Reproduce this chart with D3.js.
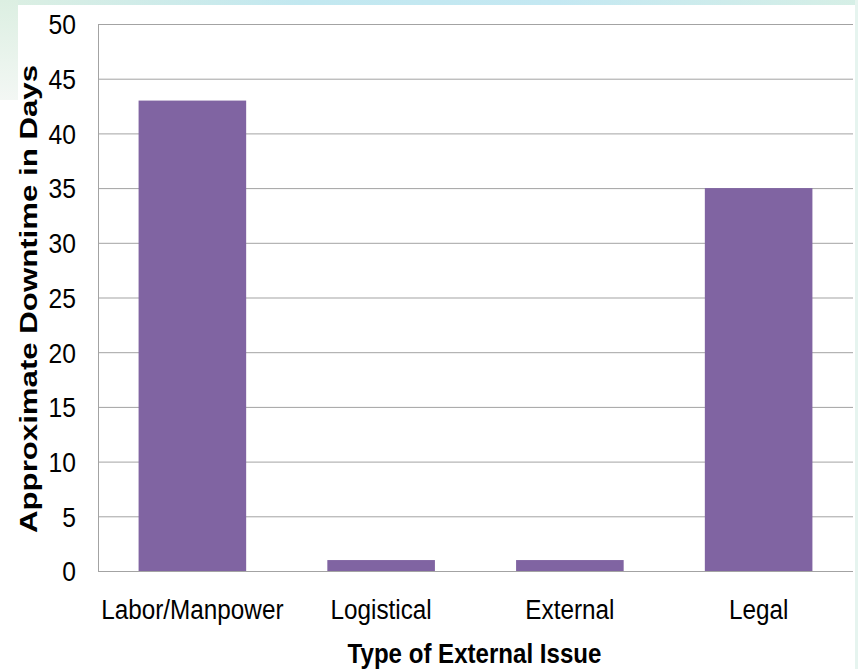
<!DOCTYPE html>
<html>
<head>
<meta charset="utf-8">
<script src="https://cdn.jsdelivr.net/npm/d3@7"></script>
<style>
  html, body { margin: 0; padding: 0; background: #ffffff; }
  svg { display: block; }
</style>
</head>
<body>
<svg id="chart" width="858" height="669"></svg>
<script>
// ---- data ----
const categories = ["Labor/Manpower", "Logistical", "External", "Legal"];
const downtimeDays = [43, 1, 1, 35];
const yTicks = [0, 5, 10, 15, 20, 25, 30, 35, 40, 45, 50];
const xTitle = "Type of External Issue";
const yTitle = "Approximate Downtime in Days";

// ---- layout ----
const W = 858, H = 669;
const plot = { left: 98, right: 853, top: 24, bottom: 571 };
const svg = d3.select("#chart");
const font = "'Liberation Sans', Arial, sans-serif";

// background decorations
const defs = svg.append("defs");
const gTop = defs.append("linearGradient").attr("id", "gTop").attr("x1", 0).attr("x2", 1).attr("y1", 0).attr("y2", 0);
gTop.append("stop").attr("offset", "0%").attr("stop-color", "#dcefe2");
gTop.append("stop").attr("offset", "35%").attr("stop-color", "#c2e8f0");
gTop.append("stop").attr("offset", "65%").attr("stop-color", "#c4e8f2");
gTop.append("stop").attr("offset", "100%").attr("stop-color", "#d6efe6");
const gLeft = defs.append("linearGradient").attr("id", "gLeft").attr("x1", 0).attr("x2", 0).attr("y1", 0).attr("y2", 1);
gLeft.append("stop").attr("offset", "0%").attr("stop-color", "#dcefe2");
gLeft.append("stop").attr("offset", "100%").attr("stop-color", "#f3f7f4");

svg.append("rect").attr("x", 0).attr("y", 0).attr("width", W).attr("height", H).attr("fill", "#ffffff");
svg.append("rect").attr("x", 0).attr("y", 0).attr("width", W).attr("height", 5).attr("fill", "url(#gTop)");
svg.append("rect").attr("x", 0).attr("y", 0).attr("width", 18).attr("height", 100).attr("fill", "url(#gLeft)");
svg.append("rect").attr("x", 855).attr("y", 0).attr("width", 3).attr("height", H).attr("fill", "#e6f4ef");

// ---- scales ----
const x = d3.scaleBand().domain(categories).range([plot.left, plot.right]).paddingInner(0.43).paddingOuter(0.215);
const y = d3.scaleLinear().domain([0, 50]).range([plot.bottom, plot.top]);

// gridlines
svg.append("g")
  .attr("transform", `translate(${plot.left},0)`)
  .call(d3.axisLeft(y).tickValues(yTicks).tickSize(-(plot.right - plot.left)).tickFormat(""))
  .call(g => g.select(".domain").remove())
  .call(g => g.selectAll("line").attr("stroke", "#a3a3a3").attr("stroke-width", 1));

// bars
svg.append("g").selectAll("rect")
  .data(categories)
  .join("rect")
  .attr("x", d => x(d))
  .attr("width", x.bandwidth())
  .attr("y", (d, i) => y(downtimeDays[i]))
  .attr("height", (d, i) => y(0) - y(downtimeDays[i]))
  .attr("fill", "#8064a2");

// y axis
const yAxis = svg.append("g")
  .attr("transform", `translate(${plot.left},0)`)
  .call(d3.axisLeft(y).tickValues(yTicks).tickSize(0).tickPadding(0).tickFormat(d3.format("d")));
yAxis.select(".domain").attr("stroke", "#a3a3a3");
yAxis.selectAll("text")
  .attr("font-family", font).attr("font-size", 28).attr("fill", "#000")
  .attr("x", 0).attr("dy", "0.35em")
  .attr("transform", "translate(-22,0) scale(0.88,1)");

// x axis
const xAxis = svg.append("g")
  .attr("transform", `translate(0,${plot.bottom})`)
  .call(d3.axisBottom(x).tickSize(0).tickPadding(0));
xAxis.select(".domain").attr("stroke", "#a3a3a3").attr("d", `M${plot.left},0.5H${plot.right}`);
xAxis.selectAll("text")
  .attr("font-family", font).attr("font-size", 27).attr("fill", "#000")
  .attr("y", 0).attr("dy", 0)
  .attr("transform", "translate(0,48) scale(0.9,1)");

// axis titles
svg.append("text")
  .attr("transform", `translate(${(plot.left + plot.right) / 2 - 1},663) scale(0.86,1)`)
  .attr("text-anchor", "middle")
  .attr("font-family", font).attr("font-weight", "bold").attr("font-size", 28)
  .attr("fill", "#000")
  .text(xTitle);

svg.append("text")
  .attr("transform", `translate(37,299) rotate(-90)`)
  .attr("text-anchor", "middle")
  .attr("font-family", font).attr("font-weight", "bold").attr("font-size", 23)
  .attr("textLength", 468).attr("lengthAdjust", "spacingAndGlyphs")
  .attr("fill", "#000")
  .text(yTitle);
</script>
</body>
</html>
